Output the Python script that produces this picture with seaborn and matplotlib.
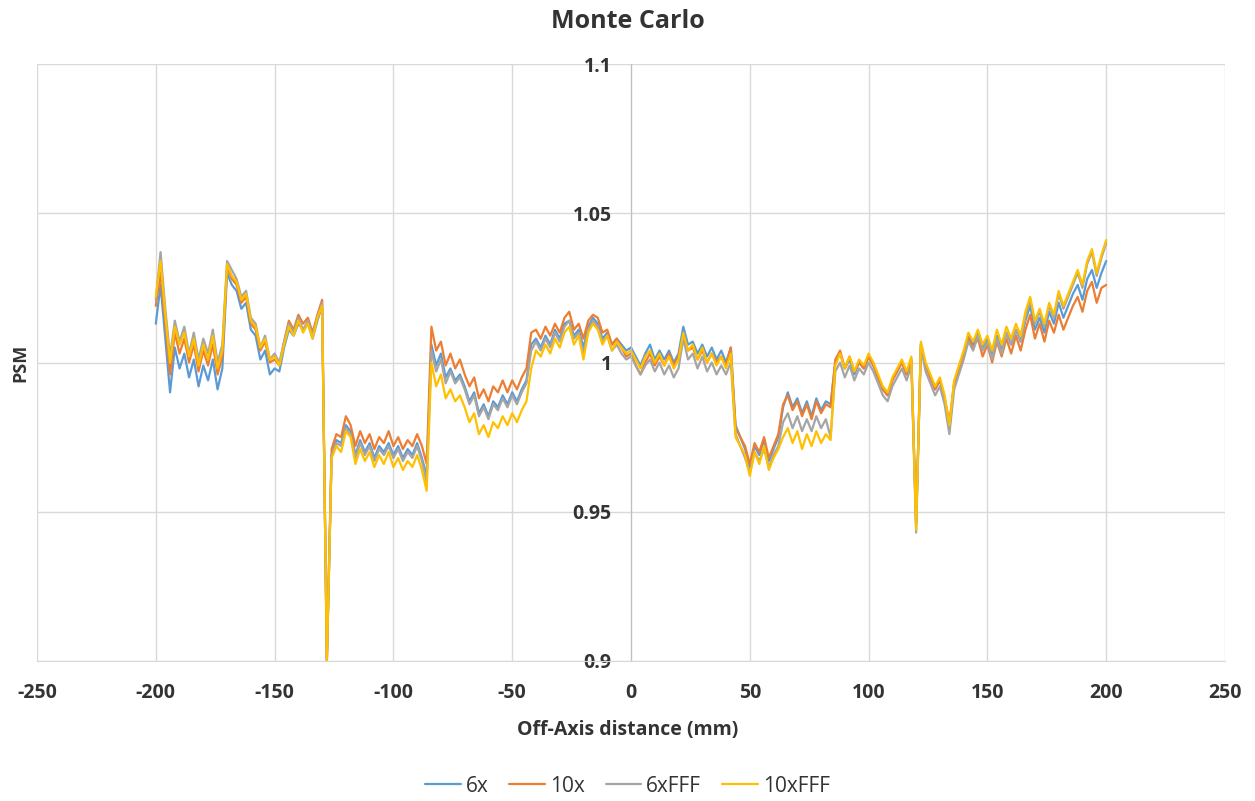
import numpy as np
import pandas as pd
import matplotlib
matplotlib.use("Agg")
import matplotlib.pyplot as plt
import seaborn as sns

# off-axis position (mm), one reading every 2 mm
distance = np.arange(-200, 201, 2)

psm_6x = [
    1.013, 1.026, 1.008, 0.990, 1.005, 0.998, 1.003, 0.995, 1.001, 0.992, 0.999, 0.994, 1.001, 0.991, 0.998,
    1.030, 1.026, 1.024, 1.018, 1.020, 1.011, 1.009, 1.001, 1.004, 0.996, 0.998, 0.997, 1.005, 1.011, 1.009,
    1.013, 1.011, 1.013, 1.008, 1.014, 1.019,
    0.900,
    0.969, 0.974, 0.973, 0.979, 0.977, 0.969, 0.974, 0.970, 0.973, 0.968, 0.972, 0.970, 0.973, 0.969, 0.972,
    0.968, 0.971, 0.969, 0.973, 0.968, 0.962,
    1.006, 0.999, 1.003, 0.995, 0.998, 0.994, 0.996, 0.992, 0.987, 0.990, 0.983, 0.986, 0.982, 0.987, 0.985,
    0.989, 0.986, 0.990, 0.987, 0.991, 0.994,
    1.006, 1.008, 1.005, 1.009, 1.006, 1.011, 1.008, 1.013, 1.014, 1.009, 1.011, 1.005, 1.012, 1.015, 1.013,
    1.008, 1.010, 1.006, 1.008, 1.006, 1.004, 1.005, 1.002, 0.999, 1.003, 1.006, 1.001, 1.004, 1.001, 1.004,
    1.000, 1.003, 1.012, 1.006, 1.007, 1.003, 1.006, 1.002, 1.005, 1.001, 1.004, 1.000, 1.005,
    0.979, 0.975, 0.971, 0.965, 0.972, 0.969, 0.974, 0.967, 0.971, 0.975, 0.985, 0.990, 0.985, 0.988, 0.983,
    0.987, 0.982, 0.988, 0.984, 0.987, 0.986,
    1.000, 1.003, 0.998, 1.001, 0.996, 1.000, 0.998, 1.002, 0.999, 0.995, 0.991, 0.989, 0.994, 0.997, 1.000,
    0.996, 1.001, 0.946, 1.006, 0.999, 0.995, 0.991, 0.994, 0.988, 0.978, 0.993, 0.998, 1.003, 1.009, 1.006,
    1.010, 1.005, 1.008, 1.003, 1.009, 1.004, 1.010, 1.006, 1.011, 1.007, 1.014, 1.019, 1.011, 1.015, 1.010,
    1.017, 1.013, 1.020, 1.015, 1.019, 1.023, 1.026, 1.021, 1.028, 1.031, 1.025, 1.030, 1.034,
]

psm_10x = [
    1.019, 1.030, 1.013, 0.996, 1.010, 1.003, 1.008, 1.000, 1.006, 0.997, 1.004, 0.999, 1.006, 0.996, 1.002,
    1.032, 1.028, 1.026, 1.020, 1.022, 1.013, 1.011, 1.004, 1.007, 1.000, 1.001, 0.999, 1.007, 1.014, 1.011,
    1.016, 1.013, 1.015, 1.010, 1.016, 1.021,
    0.900,
    0.971, 0.976, 0.975, 0.982, 0.979, 0.972, 0.977, 0.973, 0.976, 0.971, 0.975, 0.973, 0.977, 0.972, 0.975,
    0.971, 0.974, 0.972, 0.976, 0.972, 0.966,
    1.012, 1.004, 1.007, 0.999, 1.003, 0.998, 1.001, 0.996, 0.992, 0.995, 0.988, 0.991, 0.987, 0.992, 0.990,
    0.994, 0.990, 0.994, 0.991, 0.995, 0.998,
    1.010, 1.011, 1.008, 1.012, 1.009, 1.013, 1.010, 1.015, 1.017, 1.011, 1.013, 1.008, 1.014, 1.016, 1.015,
    1.010, 1.011, 1.006, 1.008, 1.005, 1.002, 1.003, 0.999, 0.996, 1.000, 1.003, 0.999, 1.002, 0.999, 1.003,
    0.999, 1.002, 1.009, 1.004, 1.005, 1.001, 1.004, 1.000, 1.003, 1.000, 1.002, 0.999, 1.005,
    0.978, 0.975, 0.972, 0.966, 0.973, 0.970, 0.975, 0.968, 0.972, 0.976, 0.986, 0.989, 0.984, 0.987, 0.982,
    0.986, 0.981, 0.987, 0.983, 0.986, 0.985,
    1.001, 1.004, 0.998, 1.002, 0.997, 1.000, 0.998, 1.002, 0.999, 0.995, 0.991, 0.989, 0.994, 0.997, 1.000,
    0.996, 1.001, 0.946, 1.006, 0.999, 0.995, 0.991, 0.994, 0.988, 0.980, 0.993, 0.998, 1.002, 1.008, 1.005,
    1.008, 1.002, 1.006, 1.000, 1.007, 1.002, 1.008, 1.003, 1.009, 1.004, 1.011, 1.016, 1.008, 1.013, 1.007,
    1.014, 1.010, 1.016, 1.011, 1.015, 1.019, 1.022, 1.017, 1.024, 1.027, 1.020, 1.025, 1.026,
]

psm_6xfff = [
    1.021, 1.037, 1.018, 1.002, 1.014, 1.007, 1.012, 1.003, 1.010, 1.001, 1.008, 1.003, 1.011, 1.000, 1.006,
    1.034, 1.031, 1.028, 1.022, 1.024, 1.015, 1.013, 1.005, 1.009, 1.001, 1.003, 1.000, 1.007, 1.013, 1.010,
    1.015, 1.011, 1.014, 1.009, 1.015, 1.020,
    0.900,
    0.969, 0.973, 0.972, 0.978, 0.976, 0.968, 0.973, 0.969, 0.972, 0.967, 0.971, 0.969, 0.972, 0.968, 0.971,
    0.967, 0.970, 0.968, 0.972, 0.967, 0.960,
    1.004, 0.997, 1.001, 0.993, 0.997, 0.993, 0.995, 0.991, 0.986, 0.989, 0.982, 0.985, 0.981, 0.986, 0.984,
    0.988, 0.985, 0.989, 0.986, 0.990, 0.993,
    1.004, 1.007, 1.004, 1.008, 1.005, 1.010, 1.007, 1.012, 1.014, 1.008, 1.010, 1.003, 1.011, 1.014, 1.012,
    1.007, 1.009, 1.004, 1.006, 1.003, 1.001, 1.002, 0.999, 0.996, 0.999, 1.001, 0.997, 1.000, 0.996, 0.999,
    0.995, 0.998, 1.008, 1.001, 1.003, 0.998, 1.002, 0.997, 1.000, 0.996, 0.999, 0.996, 1.000,
    0.976, 0.972, 0.968, 0.963, 0.970, 0.967, 0.971, 0.965, 0.969, 0.972, 0.980, 0.983, 0.978, 0.982, 0.977,
    0.981, 0.977, 0.982, 0.978, 0.981, 0.975,
    0.997, 1.000, 0.995, 0.999, 0.994, 0.998, 0.996, 1.000, 0.997, 0.993, 0.989, 0.987, 0.992, 0.995, 0.998,
    0.994, 0.999, 0.943, 1.005, 0.997, 0.993, 0.989, 0.992, 0.986, 0.976, 0.991, 0.996, 1.001, 1.007, 1.004,
    1.009, 1.004, 1.007, 1.001, 1.008, 1.003, 1.010, 1.006, 1.011, 1.007, 1.015, 1.021, 1.013, 1.017, 1.012,
    1.019, 1.015, 1.023, 1.018, 1.022, 1.026, 1.030, 1.025, 1.033, 1.037, 1.029, 1.035, 1.040,
]

psm_10xfff = [
    1.022, 1.034, 1.016, 1.000, 1.012, 1.006, 1.010, 1.002, 1.008, 0.999, 1.006, 1.001, 1.009, 0.998, 1.004,
    1.033, 1.029, 1.027, 1.021, 1.023, 1.014, 1.012, 1.005, 1.008, 1.001, 1.002, 0.999, 1.006, 1.012, 1.009,
    1.014, 1.010, 1.013, 1.008, 1.015, 1.019,
    0.900,
    0.968, 0.972, 0.970, 0.977, 0.975, 0.966, 0.971, 0.967, 0.970, 0.965, 0.969, 0.966, 0.970, 0.965, 0.968,
    0.964, 0.967, 0.965, 0.969, 0.964, 0.957,
    1.000, 0.992, 0.996, 0.988, 0.991, 0.987, 0.989, 0.985, 0.980, 0.983, 0.976, 0.979, 0.975, 0.980, 0.978,
    0.982, 0.979, 0.983, 0.980, 0.984, 0.987,
    0.998, 1.004, 1.002, 1.006, 1.003, 1.008, 1.005, 1.010, 1.012, 1.006, 1.009, 1.001, 1.010, 1.013, 1.011,
    1.006, 1.009, 1.004, 1.007, 1.005, 1.003, 1.004, 1.001, 0.998, 1.002, 1.004, 1.000, 1.003, 0.999, 1.002,
    0.998, 1.001, 1.010, 1.004, 1.006, 1.001, 1.005, 1.000, 1.003, 0.999, 1.002, 0.998, 1.003,
    0.975, 0.972, 0.969, 0.962, 0.970, 0.966, 0.972, 0.964, 0.968, 0.971, 0.975, 0.978, 0.973, 0.977, 0.971,
    0.976, 0.972, 0.977, 0.973, 0.976, 0.974,
    0.999, 1.003, 0.998, 1.002, 0.997, 1.001, 0.999, 1.003, 1.000, 0.996, 0.992, 0.990, 0.995, 0.998, 1.001,
    0.997, 1.002, 0.944, 1.007, 1.000, 0.996, 0.992, 0.995, 0.989, 0.979, 0.994, 0.999, 1.004, 1.010, 1.007,
    1.011, 1.006, 1.009, 1.004, 1.011, 1.006, 1.012, 1.008, 1.013, 1.009, 1.017, 1.022, 1.014, 1.018, 1.013,
    1.020, 1.016, 1.024, 1.019, 1.023, 1.027, 1.031, 1.026, 1.034, 1.038, 1.030, 1.036, 1.041,
]

series_names = ["6x", "10x", "6xFFF", "10xFFF"]
series_colors = ["#5B9BD5", "#ED7D31", "#A5A5A5", "#FFC000"]
x_ticks = [-250, -200, -150, -100, -50, 0, 50, 100, 150, 200, 250]
y_ticks = [0.9, 0.95, 1.0, 1.05, 1.1]
y_tick_labels = ["0.9", "0.95", "1", "1.05", "1.1"]

df = pd.DataFrame({
    "distance": np.tile(distance, 4),
    "psm": psm_6x + psm_10x + psm_6xfff + psm_10xfff,
    "serie": np.repeat(series_names, len(distance)),
})

sns.set_style("white")
plt.rcParams["font.family"] = ["Open Sans", "DejaVu Sans"]

text_color = "#333333"
grid_color = "#D9D9D9"

fig = plt.figure(figsize=(12.55, 8.01), dpi=100)
ax = fig.add_axes([37 / 1255, 1 - 661 / 801, (1225 - 37) / 1255, (661 - 64) / 801])

sns.lineplot(data=df, x="distance", y="psm", hue="serie", hue_order=series_names,
             palette=series_colors, linewidth=1.6, ax=ax, legend=False, sort=False)

ax.set_xlim(-250, 250)
ax.set_ylim(0.9, 1.1)
ax.set_xticks(x_ticks)
ax.set_xticklabels([str(t) for t in x_ticks])
ax.set_yticks(y_ticks)
ax.set_yticklabels(y_tick_labels)
ax.grid(True, color=grid_color, linewidth=1)
ax.set_axisbelow(True)

for side in ["top", "right"]:
    ax.spines[side].set_visible(False)
ax.spines["bottom"].set_color(grid_color)
ax.spines["left"].set_position(("data", 0))
ax.spines["left"].set_color("#BFBFBF")

ax.tick_params(axis="both", length=0, labelsize=14, labelcolor=text_color)
ax.tick_params(axis="x", pad=16)
ax.tick_params(axis="y", pad=14)
for lab in ax.get_xticklabels() + ax.get_yticklabels():
    lab.set_fontweight("bold")

ax.set_xlabel("")
ax.set_ylabel("")
fig.text(0.5, 1 - 730 / 801, "Off-Axis distance (mm)", ha="center", va="center",
         fontsize=14, fontweight="bold", color=text_color)
fig.text(20 / 1255, 1 - 363 / 801, "PSM", rotation=90, ha="center", va="center",
         fontsize=13, fontweight="bold", color=text_color)
fig.text(0.5, 1 - 21 / 801, "Monte Carlo", ha="center", va="center",
         fontsize=18, fontweight="bold", color=text_color)

handles = [plt.Line2D([0], [0], color=c, linewidth=1.6) for c in series_colors]
fig.legend(handles, series_names, loc="center", bbox_to_anchor=(0.5, 1 - 786 / 801), ncol=4,
           frameon=False, fontsize=15, handlelength=1.7, handletextpad=0.25, columnspacing=1.0,
           labelcolor=text_color)

fig.savefig("out.png", dpi=100)
